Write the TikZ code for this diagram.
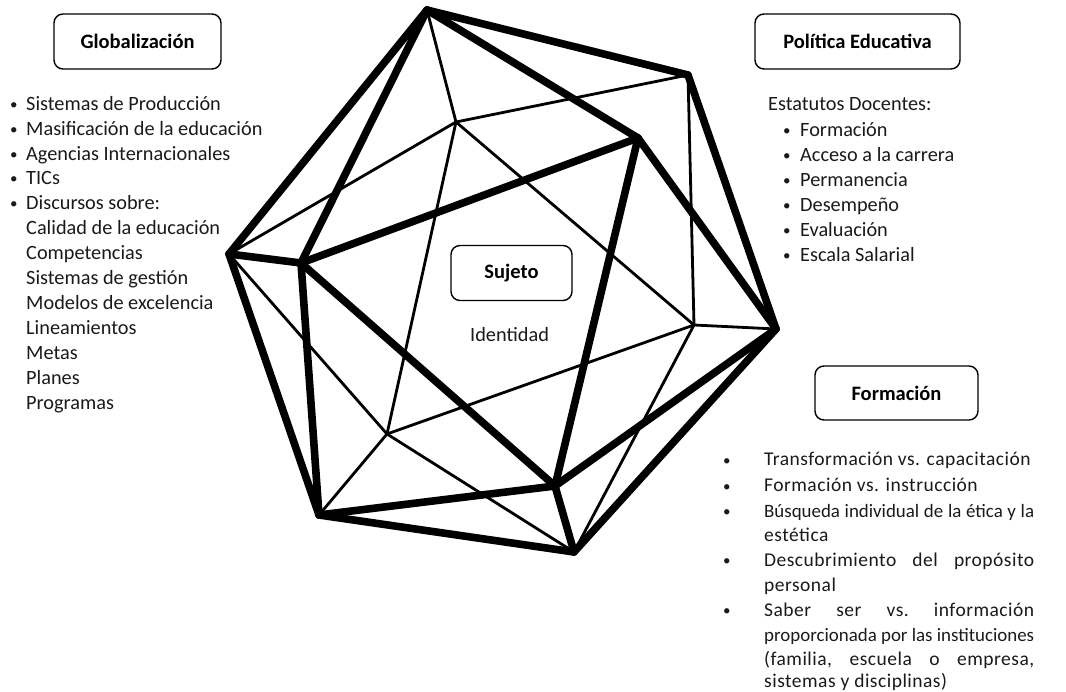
\documentclass[tikz,border=0pt]{standalone}
\usepackage{fontspec}
\setmainfont{Carlito}
\newfontfamily\spacedfont[LetterSpace=2.5]{Carlito}
\definecolor{ink}{HTML}{1A1A1A}
\tikzset{
  thickedge/.style={line width=7.6pt,line cap=round,line join=round,black},
  thinedge/.style={line width=2.8pt,line cap=round,black},
  titlebox/.style={draw=black,line width=1.4pt,rounded corners=9pt,fill=white,text=black,align=center,inner sep=0pt},
  boxlabel/.style={font=\bfseries\fontsize{20.5}{24}\selectfont},
  txt/.style={anchor=base west,inner sep=0pt,text=ink,font=\fontsize{20.3}{24}\selectfont},
  sm/.style={anchor=base west,inner sep=0pt,text=ink,font=\spacedfont\fontsize{19.5}{24}\selectfont},
  smtight/.style={anchor=base west,inner sep=0pt,text=ink,font=\fontsize{18.9}{24}\selectfont},
  dot/.style={anchor=base west,inner sep=0pt,text=ink,font=\fontsize{15}{18}\selectfont}
}
\newcommand{\jline}[1]{\makebox[270pt][s]{#1}}
\begin{document}
\begin{tikzpicture}[x=1pt,y=-1pt]
\useasboundingbox (0,0) rectangle (1066,692);
\coordinate (A) at (427,10);
\coordinate (B) at (688,75);
\coordinate (C) at (776,329);
\coordinate (D) at (574,552);
\coordinate (E) at (319,515);
\coordinate (F) at (229,254);
\coordinate (G) at (301,263);
\coordinate (H) at (638,138);
\coordinate (I) at (555,486);
\coordinate (J) at (456,122);
\coordinate (K) at (694,325);
\coordinate (L) at (387,434);
\foreach \a/\b in {J/A,J/F,J/B,J/K,J/L,K/B,K/C,K/L,K/D,L/F,L/E,L/D}
  \draw[thinedge] (\a) -- (\b);
\foreach \a/\b in {A/B,B/C,C/D,D/E,E/F,F/A,A/G,A/H,G/H,G/F,G/E,G/I,H/I,H/C,I/C,I/E,I/D}
  \draw[thickedge] (\a) -- (\b);

\node[titlebox,boxlabel,minimum width=167pt,minimum height=55pt] (glob) at (137.5,41.5) {Globalización};
\node[titlebox,boxlabel,minimum width=205pt,minimum height=55pt] (poli) at (857.5,41.5) {Política Educativa};
\node[titlebox,boxlabel,minimum width=121pt,minimum height=55pt] (suj) at (511.5,273) {Sujeto};
\node[titlebox,boxlabel,minimum width=163pt,minimum height=54pt] (form) at (896.5,393) {Formación};
\node[txt] (ident) at (470,342) {Identidad};

% left list
\foreach \n/\y/\t in {a/111/Sistemas de Producción,b/136/Masificación de la educación,c/161/Agencias Internacionales,d/185/TICs,e/210/Discursos sobre:}{
  \node[txt] (l\n) at (26,\y) {\t};
  \node[dot] (lb\n) at (10,\y-1) {•};
}
\foreach \n/\y/\t in {f/235/Calidad de la educación,g/260/Competencias,h/285/Sistemas de gestión,i/310/Modelos de excelencia,j/335/Lineamientos,k/360/Metas,m/385/Planes,n/410/Programas}
  \node[txt] (l\n) at (26,\y) {\t};

% right upper list
\node[txt] (est) at (768,111) {Estatutos Docentes:};
\foreach \n/\y/\t in {a/137/Formación,b/162/Acceso a la carrera,c/187/Permanencia,d/212/Desempeño,e/237/Evaluación,f/262/Escala Salarial}{
  \node[txt] (r\n) at (800,\y) {\t};
  \node[dot] (rb\n) at (783,\y-1) {•};
}

% right lower list
\node[dot] (b1) at (723,465) {•};
\node[sm] (t1) at (764,466) {Transformación vs. capacitación};
\node[dot] (b2) at (723,491) {•};
\node[sm] (t2) at (764,492) {Formación vs. instrucción};
\node[dot] (b3) at (723,516) {•};
\node[smtight] (t3) at (764,517) {\jline{Búsqueda individual de la ética y la}};
\node[sm] (t3b) at (764,541) {estética};
\node[dot] (b4) at (723,565) {•};
\node[sm] (t4) at (764,566) {\jline{Descubrimiento\hfill del\hfill propósito}};
\node[sm] (t4b) at (764,591) {personal};
\node[dot] (b5) at (723,615) {•};
\node[sm] (t5) at (764,616) {\jline{Saber\hfill ser\hfill vs.\hfill información}};
\node[smtight] (t5b) at (764,641) {\jline{proporcionada por las instituciones}};
\node[sm] (t5c) at (764,665) {\jline{(familia,\hfill escuela\hfill o\hfill empresa,}};
\node[sm] (t5d) at (764,687) {sistemas y disciplinas)};
\end{tikzpicture}
\end{document}
